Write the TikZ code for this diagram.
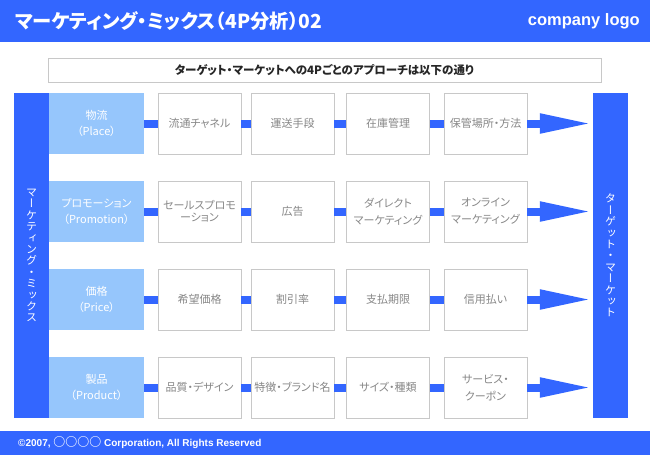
\documentclass[tikz,border=0pt]{standalone}
\usepackage{fontspec}
\setmainfont{Noto Sans CJK JP}[RawFeature=+palt]
\newfontfamily\jpv[RawFeature=+vert]{Noto Sans CJK JP}
\newfontfamily\jpfull{Noto Sans CJK JP}
\newfontfamily\latf{Liberation Sans}
\usetikzlibrary{arrows.meta}
\definecolor{mainblue}{RGB}{51,102,255}
\definecolor{lightblu}{RGB}{150,198,252}
\definecolor{boxgray}{RGB}{200,200,200}
\definecolor{txtgray}{RGB}{135,135,135}
\tikzset{
  band/.style={fill=mainblue, inner sep=0pt, anchor=north west},
  vbar/.style={fill=mainblue, inner sep=0pt, minimum width=35pt, minimum height=325pt, text=white, align=center,
    font=\jpv\fontsize{11}{11.4}\selectfont},
  lbox/.style={fill=lightblu, inner sep=0pt, minimum width=95pt, minimum height=61pt, text=white, align=center,
    font=\fontsize{11}{16.6}\selectfont},
  wbox/.style={draw=boxgray, line width=0.8pt, fill=white, inner sep=0pt, minimum width=83pt, minimum height=61pt,
    text=txtgray, align=center, font=\fontsize{11}{17}\selectfont},
  conn/.style={draw=mainblue, line width=8pt},
  arr/.style={conn, -{Triangle[length=53pt,width=18pt]}, shorten >=0pt},
}
\begin{document}
\begin{tikzpicture}[x=1pt,y=-1pt]
\useasboundingbox (0,0) rectangle (650,455);
% header
\node[band, minimum width=650pt, minimum height=41.5pt] (header) at (0,0) {};
\node[anchor=west, text=white, inner sep=0pt, font=\bfseries\fontsize{19.3}{19.3}\selectfont] (title) at (15,21)
  {マーケティング・ミックス（4P分析）02};
\node[anchor=east, text=white, inner sep=0pt, font=\latf\bfseries\fontsize{16.5}{16.5}\selectfont] (logo) at (640,21)
  {company logo};
% subtitle
\node[draw=boxgray, line width=0.8pt, minimum width=553pt, minimum height=24pt, inner sep=0pt,
  font=\bfseries\fontsize{11.5}{11.5}\selectfont, text=black!85] (sub) at (324.5,70)
  {ターゲット・マーケットへの4Pごとのアプローチは以下の通り};
% side bars
\node[vbar] (lbar) at (31.5,255.5) {マ\\ー\\ケ\\テ\\ィ\\ン\\グ\\・\\ミ\\ッ\\ク\\ス};
\node[vbar] (rbar) at (610.5,255.5) {タ\\ー\\ゲ\\ッ\\ト\\・\\マ\\ー\\ケ\\ッ\\ト};
% row 1
\node[lbox] (l1) at (96.5,123.5) {物流\\（Place）};
\node[wbox] (w11) at (199.5,123.5) {流通チャネル};
\node[wbox] (w12) at (292.5,123.5) {運送手段};
\node[wbox] (w13) at (388,123.5) {在庫管理};
\node[wbox] (w14) at (485.5,123.5) {保管場所・方法};
% row 2
\node[lbox] (l2) at (96.5,211.5) {プロモーション\\（Promotion）};
\node[wbox, font=\fontsize{11}{12}\selectfont] (w21) at (199.5,211.5) {セールスプロモ\\ーション};
\node[wbox] (w22) at (292.5,211.5) {広告};
\node[wbox] (w23) at (388,211.5) {ダイレクト\\マーケティング};
\node[wbox] (w24) at (485.5,211.5) {オンライン\\マーケティング};
% row 3
\node[lbox] (l3) at (96.5,299.5) {価格\\（Price）};
\node[wbox] (w31) at (199.5,299.5) {希望価格};
\node[wbox] (w32) at (292.5,299.5) {割引率};
\node[wbox] (w33) at (388,299.5) {支払期限};
\node[wbox] (w34) at (485.5,299.5) {信用払い};
% row 4
\node[lbox] (l4) at (96.5,387.5) {製品\\（Product）};
\node[wbox] (w41) at (199.5,387.5) {品質・デザイン};
\node[wbox] (w42) at (292.5,387.5) {特徴・ブランド名};
\node[wbox] (w43) at (388,387.5) {サイズ・種類};
\node[wbox] (w44) at (485.5,387.5) {サービス・\\クーポン};
% connectors
\foreach \r in {1,2,3,4}{
  \draw[conn] (l\r.east) -- (w\r1.west);
  \draw[conn] (w\r1.east) -- (w\r2.west);
  \draw[conn] (w\r2.east) -- (w\r3.west);
  \draw[conn] (w\r3.east) -- (w\r4.west);
  \draw[arr] (w\r4.east) -- (w\r4.east -| rbar.west);
}
% footer
\node[band, minimum width=650pt, minimum height=24pt] (footer) at (0,431) {};
\node[anchor=west, text=white, inner sep=0pt, font=\latf\bfseries\fontsize{10}{10}\selectfont] (copy) at (18,443)
  {©2007, {\jpfull\fontsize{12}{12}\selectfont ○○○○} Corporation, All Rights Reserved};
\end{tikzpicture}
\end{document}
